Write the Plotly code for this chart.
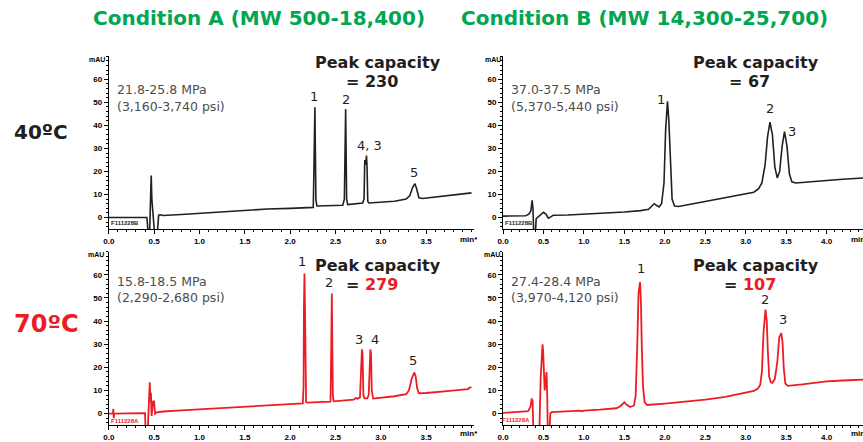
import plotly.graph_objects as go

# ---------------- data ----------------
# 40ºC, Condition A
t_40A = [0.00, 0.20, 0.42, 0.435, 0.45, 0.462, 0.468, 0.475, 0.49, 0.505, 0.535, 0.55, 0.57, 0.60,
         0.80, 1.00, 1.25, 1.50, 1.75, 2.00, 2.20, 2.255, 2.262, 2.267, 2.273, 2.278, 2.284, 2.295,
         2.40, 2.58, 2.598, 2.604, 2.612, 2.617, 2.623, 2.635, 2.75, 2.80, 2.815, 2.823, 2.832,
         2.842, 2.848, 2.856, 2.87, 3.00, 3.15, 3.28, 3.32, 3.35, 3.376, 3.395, 3.42, 3.46, 3.60,
         3.80, 4.00]
mau_40A = [0.0, 0.0, 0.0, -7, -7, 10, 18.2, 8, 0.0, -7, -7, 1.0, 1.2, 0.9,
           1.3, 1.8, 2.5, 3.2, 3.7, 4.0, 4.3, 4.4, 20, 40, 47.8, 30, 8, 5.0,
           5.1, 5.3, 8, 30, 47.1, 30, 8, 5.6, 6.0, 6.3, 8, 25, 23,
           26.9, 22, 7, 6.3, 6.6, 7.1, 8.0, 9.5, 13, 14.7, 12.5, 8.6, 8.3, 8.9,
           9.7, 10.7]

# 40ºC, Condition B
t_40B = [0.00, 0.28, 0.32, 0.345, 0.36, 0.37, 0.38, 0.40, 0.41, 0.44, 0.47, 0.50, 0.53, 0.56,
         0.59, 0.62, 0.80, 1.00, 1.25, 1.50, 1.70, 1.80, 1.84, 1.87, 1.90, 1.93, 1.96, 1.99,
         2.01, 2.033, 2.05, 2.07, 2.09, 2.12, 2.17, 2.40, 2.70, 3.00, 3.10, 3.16, 3.20, 3.24,
         3.27, 3.30, 3.33, 3.36, 3.39, 3.42, 3.45, 3.48, 3.51, 3.54, 3.57, 3.62, 3.80, 4.00,
         4.20, 4.46]
mau_40B = [0.6, 0.8, 1.5, 3.0, 7.5, 4.0, -7, -7, -0.5, 0.3, 1.5, 2.3, 1.5, -0.3,
           0.3, 1.0, 1.1, 1.4, 1.9, 2.4, 3.0, 3.6, 5.0, 6.0, 5.2, 4.6, 6.0, 15,
           38, 50.4, 42, 22, 8, 5.0, 4.8, 6.3, 8.3, 10.2, 11, 12.5, 15, 23,
           35, 41.4, 36, 22, 17.2, 20, 31, 37.3, 31, 19, 15.5, 15.0, 15.6, 16.1,
           16.6, 17.2]

# 70ºC, Condition A
t_70A = [0.00, 0.045, 0.05, 0.055, 0.06, 0.40, 0.405, 0.43, 0.44, 0.452, 0.46, 0.465, 0.472,
         0.48, 0.49, 0.50, 0.51, 0.53, 0.60, 0.80, 1.00, 1.25, 1.50, 1.75, 2.00, 2.14, 2.148,
         2.152, 2.158, 2.164, 2.168, 2.176, 2.19, 2.35, 2.445, 2.449, 2.453, 2.46, 2.465, 2.471,
         2.48, 2.60, 2.70, 2.725, 2.74, 2.77, 2.782, 2.792, 2.798, 2.808, 2.82, 2.85, 2.866,
         2.876, 2.885, 2.892, 2.90, 2.915, 3.00, 3.15, 3.28, 3.31, 3.34, 3.37, 3.385, 3.40,
         3.42, 3.50, 3.70, 3.90, 3.96, 3.98, 4.00]
mau_70A = [0.0, 0.0, 2.0, -2.0, 0.0, 0.2, -7, -7, 3.0, 13.5, 5.0, 9.0, -1.0,
           2.0, 5.5, 5.2, 0.0, 0.5, 0.9, 1.4, 1.9, 2.5, 3.1, 3.6, 4.1, 4.4, 12,
           45, 60.6, 45, 20, 5.0, 4.7, 5.0, 5.2, 15, 37, 51.9, 30, 8,
           5.3, 5.6, 6.0, 6.8, 6.3, 7.0, 22, 27.8, 26, 8, 6.6, 6.6, 8,
           25, 27.8, 26, 10, 6.5, 6.8, 7.5, 8.4, 10, 15, 17.8, 16, 11,
           8.8, 8.9, 9.6, 10.3, 10.6, 11.2, 11.3]

# 70ºC, Condition B
t_70B = [0.00, 0.29, 0.31, 0.34, 0.355, 0.36, 0.365, 0.375, 0.45, 0.465, 0.48, 0.488, 0.496,
         0.505, 0.515, 0.528, 0.538, 0.546, 0.553, 0.575, 0.585, 0.60, 0.80, 0.95, 0.98, 1.00,
         1.20, 1.40, 1.45, 1.48, 1.50, 1.53, 1.57, 1.62, 1.64, 1.66, 1.675, 1.694, 1.705, 1.715,
         1.73, 1.75, 1.78, 2.00, 2.25, 2.50, 2.75, 3.00, 3.10, 3.15, 3.18, 3.20, 3.22, 3.245,
         3.26, 3.275, 3.29, 3.31, 3.33, 3.36, 3.39, 3.415, 3.44, 3.455, 3.47, 3.49, 3.52, 3.70,
         4.00, 4.20, 4.47]
mau_70B = [0.3, 0.8, 1.0, 3.0, 6.6, 4.0, 6.0, -7, -7, 15, 28, 30, 27,
           18, 10, 14, 18, 8, -7, -7, 0.0, 0.6, 1.1, 1.3, 1.0, 1.3,
           1.7, 2.3, 3.2, 4.5, 4.9, 3.8, 2.8, 3.5, 8, 30, 52, 56.9, 48, 30,
           12, 5.0, 3.7, 4.3, 5.0, 6.0, 7.2, 9.0, 9.8, 10.8, 12.5, 18, 35, 45,
           40, 26, 16, 13.5, 13.3, 15, 22, 33, 34.8, 31, 20, 13, 12, 12.6,
           13.9, 14.3, 14.7]

# peak labels: (retention time label position, mAU label position, text)
lab_40A_t = [2.262, 2.612, 2.875, 3.365]
lab_40A_v = [52.3, 51.4, 31.2, 19.4]
lab_40A_s = ["1", "2", "4, 3", "5"]
lab_40B_t = [1.947, 3.302, 3.577]
lab_40B_v = [51.4, 47.1, 37.3]
lab_40B_s = ["1", "2", "3"]
lab_70A_t = [2.133, 2.424, 2.759, 2.933, 3.359]
lab_70A_v = [65.9, 56.6, 32.2, 32.2, 23.1]
lab_70A_s = ["1", "2", "3", "4", "5"]
lab_70B_t = [1.701, 3.238, 3.458]
lab_70B_v = [62.6, 49.4, 40.6]
lab_70B_s = ["1", "2", "3"]

pressure_40A = ["21.8-25.8 MPa", "(3,160-3,740 psi)"]
pressure_40B = ["37.0-37.5 MPa", "(5,370-5,440 psi)"]
pressure_70A = ["15.8-18.5 MPa", "(2,290-2,680 psi)"]
pressure_70B = ["27.4-28.4 MPa", "(3,970-4,120 psi)"]
capacity = {"40A": "230", "40B": "67", "70A": "279", "70B": "107"}

x_ticks_left = [0, 0.5, 1.0, 1.5, 2.0, 2.5, 3.0, 3.5]
x_ticks_right = [0, 0.5, 1.0, 1.5, 2.0, 2.5, 3.0, 3.5, 4.0]
y_ticks = [0, 10, 20, 30, 40, 50, 60]

# ---------------- styling ----------------
W, H = 863, 442
BLACK = "#231F20"
RED = "#ED1C24"
GREEN = "#00A651"
GRAY = "#4D4D4D"


def px(x):
    return x / W


def py(y):
    return 1 - y / H


fig = go.Figure()

panels = [
    ("x", "y", t_40A, mau_40A, BLACK, 1.6),
    ("x2", "y2", t_40B, mau_40B, BLACK, 1.6),
    ("x3", "y3", t_70A, mau_70A, RED, 1.8),
    ("x4", "y4", t_70B, mau_70B, RED, 1.8),
]
for xa, ya, t, v, c, w in panels:
    fig.add_trace(go.Scatter(x=t, y=v, mode="lines", xaxis=xa, yaxis=ya,
                             line=dict(color=c, width=w), hoverinfo="skip",
                             showlegend=False))

tickfont = dict(family="Liberation Sans, Arial", size=8, color="#000", weight="bold")


def xaxis_cfg(domain, rng, ticks):
    return dict(domain=domain, range=rng, tickvals=ticks,
                ticktext=[f"{v:.1f}" for v in ticks],
                showline=True, linecolor="#000", linewidth=1, mirror=False,
                ticks="outside", ticklen=4, tickcolor="#000", tickwidth=1,
                minor=dict(dtick=0.1, ticks="outside", ticklen=2, tickcolor="#000"),
                showgrid=False, zeroline=False, tickfont=tickfont, fixedrange=True)


def yaxis_cfg(domain, anchor):
    return dict(domain=domain, range=[-5, 70], tickvals=y_ticks, anchor=anchor,
                showline=True, linecolor="#000", linewidth=1,
                ticks="outside", ticklen=4, tickcolor="#000", tickwidth=1,
                minor=dict(dtick=2, ticks="outside", ticklen=2, tickcolor="#000"),
                showgrid=False, zeroline=False, tickfont=tickfont, fixedrange=True)


xl = [103.5 / W, 471.5 / W]
xr = [500.5 / W, 1.0]
yt = [1 - 229.6 / H, 1 - 56.3 / H]
yb = [1 - 426.1 / H, 1 - 252.3 / H]

fig.update_layout(
    xaxis=dict(**xaxis_cfg(xl, [0, 4.03], x_ticks_left), anchor="y"),
    yaxis=yaxis_cfg(yt, "x"),
    xaxis2=dict(**xaxis_cfg(xr, [0, 4.45], x_ticks_right), anchor="y2"),
    yaxis2=yaxis_cfg(yt, "x2"),
    xaxis3=dict(**xaxis_cfg(xl, [0, 4.03], x_ticks_left), anchor="y3"),
    yaxis3=yaxis_cfg(yb, "x3"),
    xaxis4=dict(**xaxis_cfg(xr, [0, 4.45], x_ticks_right), anchor="y4"),
    yaxis4=yaxis_cfg(yb, "x4"),
)

ann = []


def text(x, y, s, size, color, bold=False, family="DejaVu Sans", xanchor="center",
         yanchor="middle", xref="paper", yref="paper"):
    ann.append(dict(x=x, y=y, xref=xref, yref=yref, text=s, showarrow=False,
                    xanchor=xanchor, yanchor=yanchor,
                    font=dict(family=family, size=size, color=color,
                              weight="bold" if bold else "normal")))


# column titles
text(px(255), py(18), "Condition A (MW 500-18,400)", 20, GREEN, bold=True)
text(px(643), py(18), "Condition B (MW 14,300-25,700)", 20, GREEN, bold=True)
# row labels
text(px(6), py(132), "40ºC", 20, BLACK, bold=True, xanchor="left")
text(px(6), py(325), "70ºC", 24, RED, bold=True, xanchor="left")

# pressure annotations
for (x0, y0), lines in [((110, 90), pressure_40A), ((507, 90), pressure_40B),
                         ((110, 282), pressure_70A), ((507, 282), pressure_70B)]:
    text(px(x0), py(y0), lines[0], 12.5, GRAY, xanchor="left")
    text(px(x0), py(y0 + 16.5), lines[1], 12.5, GRAY, xanchor="left")

# peak capacity
for (xc, yc, key) in [(375, 63, "40A"), (755, 63, "40B"), (375, 266, "70A"), (755, 266, "70B")]:
    text(px(xc), py(yc), "Peak capacity", 16, BLACK, bold=True)
    val = capacity[key]
    if key.startswith("70"):
        s = f"= <span style='color:{RED}'>{val}</span>"
    else:
        s = f"= {val}"
    text(px(xc - 6), py(yc + 19), s, 16, BLACK, bold=True)

# peak labels
for xa, ya, ts, vs, ss in [("x", "y", lab_40A_t, lab_40A_v, lab_40A_s),
                           ("x2", "y2", lab_40B_t, lab_40B_v, lab_40B_s),
                           ("x3", "y3", lab_70A_t, lab_70A_v, lab_70A_s),
                           ("x4", "y4", lab_70B_t, lab_70B_v, lab_70B_s)]:
    for t0, v0, s0 in zip(ts, vs, ss):
        text(t0, v0, s0, 13, BLACK, xref=xa, yref=ya)

# axis unit labels
for (xr_, yr_) in [(102, 60), (500, 60), (101, 255), (499, 255)]:
    text(px(xr_), py(yr_), "mAU", 7, "#000", bold=True, family="Liberation Sans, Arial",
         xanchor="right")
for (xc_, yc_) in [(466, 240), (466, 434), (860, 240), (860, 434)]:
    text(px(xc_), py(yc_), "min*", 8, "#000", bold=True, family="Liberation Sans, Arial")

# file ids
for (x0, y0, s, c) in [(104, 224, "F111228B", BLACK), (500, 224, "F111228B", BLACK),
                       (104, 421.5, "F111228A", RED), (497, 421, "F111228A", RED)]:
    text(px(x0), py(y0), s, 6, c, bold=True, family="Liberation Sans, Arial", xanchor="left")

fig.update_layout(
    annotations=ann,
    width=W, height=H,
    margin=dict(l=0, r=0, t=0, b=0),
    paper_bgcolor="white", plot_bgcolor="white",
    showlegend=False,
)

fig.write_html("out.html", config={"displayModeBar": False},
               post_script="document.body.style.margin='0';document.body.style.overflow='hidden';")
